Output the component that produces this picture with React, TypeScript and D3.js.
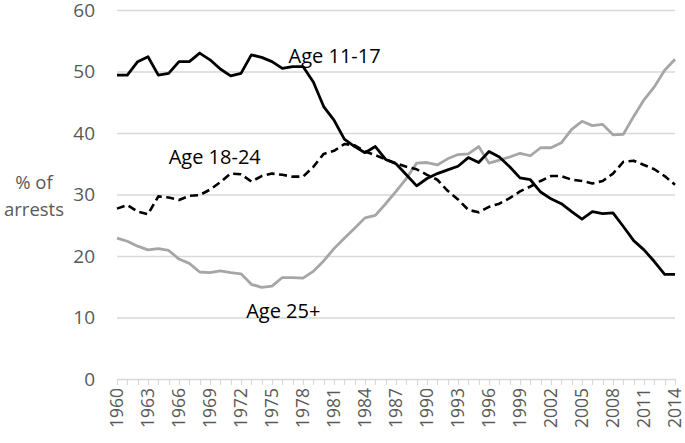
import React from "react";
import * as d3 from "d3";

const years: number[] = d3.range(1960, 2015);

const age1117: number[] = [
  49.4, 49.4, 51.6, 52.4, 49.4, 49.7, 51.6, 51.6, 53.0, 51.9,
  50.4, 49.3, 49.7, 52.7, 52.3, 51.6, 50.5, 50.8, 50.8, 48.3,
  44.3, 42.1, 39.0, 37.8, 36.8, 37.8, 35.7, 35.0, 33.2, 31.4,
  32.6, 33.4, 34.0, 34.6, 36.0, 35.2, 37.0, 36.1, 34.5, 32.7,
  32.4, 30.4, 29.3, 28.5, 27.2, 26.0, 27.2, 26.9, 27.0, 24.8,
  22.5, 21.0, 19.1, 17.0, 17.0,
];

const age1824: number[] = [
  27.7, 28.3, 27.2, 26.8, 29.7, 29.5, 29.1, 29.8, 29.9, 30.8,
  32.0, 33.4, 33.3, 32.1, 33.0, 33.4, 33.2, 32.9, 32.9, 34.5,
  36.6, 37.1, 38.2, 38.0, 37.0, 36.4, 35.7, 35.1, 34.5, 34.1,
  33.2, 32.4, 30.6, 29.2, 27.5, 27.1, 28.0, 28.5, 29.4, 30.5,
  31.3, 32.2, 33.0, 33.0, 32.4, 32.2, 31.8, 32.2, 33.4, 35.3,
  35.5, 34.8, 34.1, 33.0, 31.6,
];

const age25plus: number[] = [
  22.9, 22.4, 21.6, 21.0, 21.2, 20.9, 19.5, 18.8, 17.4, 17.3,
  17.6, 17.3, 17.1, 15.4, 14.9, 15.1, 16.5, 16.5, 16.4, 17.5,
  19.2, 21.2, 22.9, 24.5, 26.2, 26.6, 28.5, 30.5, 32.6, 35.1,
  35.2, 34.8, 35.8, 36.5, 36.6, 37.8, 35.1, 35.6, 36.1, 36.7,
  36.3, 37.6, 37.6, 38.4, 40.6, 41.9, 41.2, 41.4, 39.7, 39.8,
  42.7, 45.4, 47.5, 50.2, 52.0,
];

const yTicks: number[] = [0, 10, 20, 30, 40, 50, 60];
const xTickLabels: number[] = years.filter((y) => (y - 1960) % 3 === 0);

const seriesLabels = [
  { text: "Age 11-17", year: 1976.6, value: 51.4 },
  { text: "Age 18-24", year: 1965, value: 34.9 },
  { text: "Age 25+", year: 1972.5, value: 9.9 },
];

const W = 685;
const H = 443;
const FONT = "'Open Sans', sans-serif";

export default function App() {
  const x = d3.scaleLinear().domain([1960, 2014]).range([117, 675]);
  const y = d3.scaleLinear().domain([0, 60]).range([379, 10]);

  const mk = (vals: number[]) =>
    d3
      .line<number>()
      .x((_, i) => x(years[i]))
      .y((v) => y(v))(vals) as string;

  return (
    <svg
      width={W}
      height={H}
      style={{ position: "absolute", left: 0, top: 0, background: "#fff" }}
      fontFamily={FONT}
    >
      {/* gridlines */}
      {yTicks.slice(1).map((t) => (
        <line
          key={t}
          x1={x(1960)}
          x2={x(2014)}
          y1={y(t) + 0.5}
          y2={y(t) + 0.5}
          stroke="#d9d9d9"
          strokeWidth={1.3}
        />
      ))}
      {/* x axis */}
      <line x1={x(1960)} x2={x(2014)} y1={y(0) + 0.5} y2={y(0) + 0.5} stroke="#d9d9d9" strokeWidth={1.3} />
      {years.map((yr) => (
        <line
          key={yr}
          x1={Math.round(x(yr)) + 0.5}
          x2={Math.round(x(yr)) + 0.5}
          y1={y(0)}
          y2={y(0) + 6}
          stroke="#d9d9d9"
          strokeWidth={1.2}
        />
      ))}
      {/* y tick labels */}
      {yTicks.map((t) => (
        <text
          key={t}
          x={95}
          y={y(t)}
          dy="0.35em"
          textAnchor="end"
          fontSize={19}
          fill="#595959"
        >
          {t}
        </text>
      ))}
      {/* x tick labels */}
      {xTickLabels.map((yr) => (
        <text
          key={yr}
          transform={`translate(${x(yr) + 6},${388}) rotate(-90)`}
          textAnchor="end"
          fontSize={17.5}
          fill="#595959"
        >
          {yr}
        </text>
      ))}
      {/* y axis title */}
      <text x={34} y={189} textAnchor="middle" fontSize={18.5} fill="#595959">
        % of
      </text>
      <text x={34} y={216} textAnchor="middle" fontSize={18.5} fill="#595959">
        arrests
      </text>
      {/* series */}
      <path d={mk(age25plus)} fill="none" stroke="#a6a6a6" strokeWidth={2.8} strokeLinejoin="round" />
      <path
        d={mk(age1824)}
        fill="none"
        stroke="#000"
        strokeWidth={2.6}
        strokeDasharray="8,4.5"
        strokeLinejoin="round"
      />
      <path d={mk(age1117)} fill="none" stroke="#000" strokeWidth={2.8} strokeLinejoin="round" />
      {/* series labels */}
      {seriesLabels.map((l) => (
        <text key={l.text} x={x(l.year)} y={y(l.value)} fontSize={20} fill="#000">
          {l.text}
        </text>
      ))}
    </svg>
  );
}
